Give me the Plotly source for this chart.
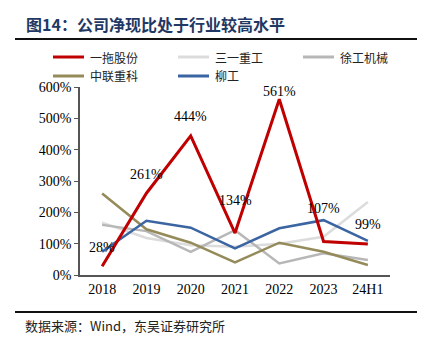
import plotly.graph_objects as go

categories = ["2018", "2019", "2020", "2021", "2022", "2023", "24H1"]
yituo = [28, 261, 444, 134, 561, 107, 99]
sany = [167, 118, 95, 90, 100, 122, 233]
xugong = [160, 140, 74, 143, 37, 69, 48]
zoomlion = [260, 146, 103, 40, 103, 74, 32]
liugong = [74, 173, 151, 85, 149, 175, 109]
label_texts = ["28%", "261%", "444%", "134%", "561%", "107%", "99%"]
label_shifts = [19, 19, 19, 33, 8, 33, 19]

serif = "Liberation Serif, Times New Roman, serif"
cjk = "Noto Sans CJK SC, sans-serif"

W, H = 435, 352
L, R, T, B = 80, 45, 87, 77
PW, PH = W - L - R, H - T - B


def px(x):
    return (x - L) / PW


def py(y):
    return (H - B - y) / PH


fig = go.Figure()
series = [
    ("一拖股份", yituo, "#c00000", 3),
    ("三一重工", sany, "#dcdcdc", 2.5),
    ("徐工机械", xugong, "#b7b7b7", 2.5),
    ("中联重科", zoomlion, "#958b5a", 2.5),
    ("柳工", liugong, "#3b65a2", 2.5),
]
order = [1, 2, 3, 4, 0]
for i in order:
    name, vals, col, w = series[i]
    fig.add_trace(go.Scatter(x=list(range(len(categories))), y=vals, mode="lines",
                             name=name, line=dict(color=col, width=w),
                             showlegend=False))

for i, (v, t, s) in enumerate(zip(yituo, label_texts, label_shifts)):
    fig.add_annotation(x=i, y=v, text=t, showarrow=False, yshift=s,
                       font=dict(family=serif, size=14, color="#000"))

# legend (manual, 3 columns)
leg_x = [53, 178, 303]
leg_y = [57, 76]
for k, (name, vals, col, w) in enumerate(series):
    cx = leg_x[k % 3]
    cy = leg_y[k // 3]
    fig.add_shape(type="line", xref="paper", yref="paper",
                  x0=px(cx), x1=px(cx + 31), y0=py(cy), y1=py(cy),
                  line=dict(color=col, width=3))
    fig.add_annotation(xref="paper", yref="paper", x=px(cx + 35), y=py(cy),
                       xanchor="left", yanchor="middle", showarrow=False,
                       text=name, font=dict(family=cjk, size=12, color="#222"))

# separator rules: two half-segments each (left and right)
for yy in [39, 312]:
    for a, b in [(15, 216), (216, 417)]:
        fig.add_shape(type="line", xref="paper", yref="paper",
                      x0=px(a), x1=px(b), y0=py(yy), y1=py(yy),
                      line=dict(color="#111", width=2))

fig.update_layout(
    width=W, height=H,
    margin=dict(l=L, r=R, t=T, b=B),
    paper_bgcolor="white", plot_bgcolor="white",
    showlegend=False,
    xaxis=dict(range=[-0.5, 6.5], tickmode="array",
               tickvals=list(range(len(categories))), ticktext=categories,
               showline=True, linecolor="#555", linewidth=1.5, ticks="",
               showgrid=False, zeroline=False,
               tickfont=dict(family=serif, size=14, color="#000")),
    yaxis=dict(range=[0, 600], dtick=100, ticksuffix="%", showline=True,
               linecolor="#555", linewidth=1.5, ticks="outside", ticklen=4,
               tickcolor="#555", showgrid=False, zeroline=False,
               tickfont=dict(family=serif, size=14, color="#000")),
)

fig.add_annotation(xref="paper", yref="paper", x=px(24), y=py(24),
                   xanchor="left", yanchor="middle", showarrow=False,
                   text="<b>图14：公司净现比处于行业较高水平</b>",
                   font=dict(family=cjk, size=16, color="#1f3864"))
fig.add_annotation(xref="paper", yref="paper", x=px(23), y=py(325),
                   xanchor="left", yanchor="middle", showarrow=False,
                   text="数据来源：Wind，东吴证券研究所",
                   font=dict(family=cjk, size=13, color="#222"))

fig.write_html("out.html")
